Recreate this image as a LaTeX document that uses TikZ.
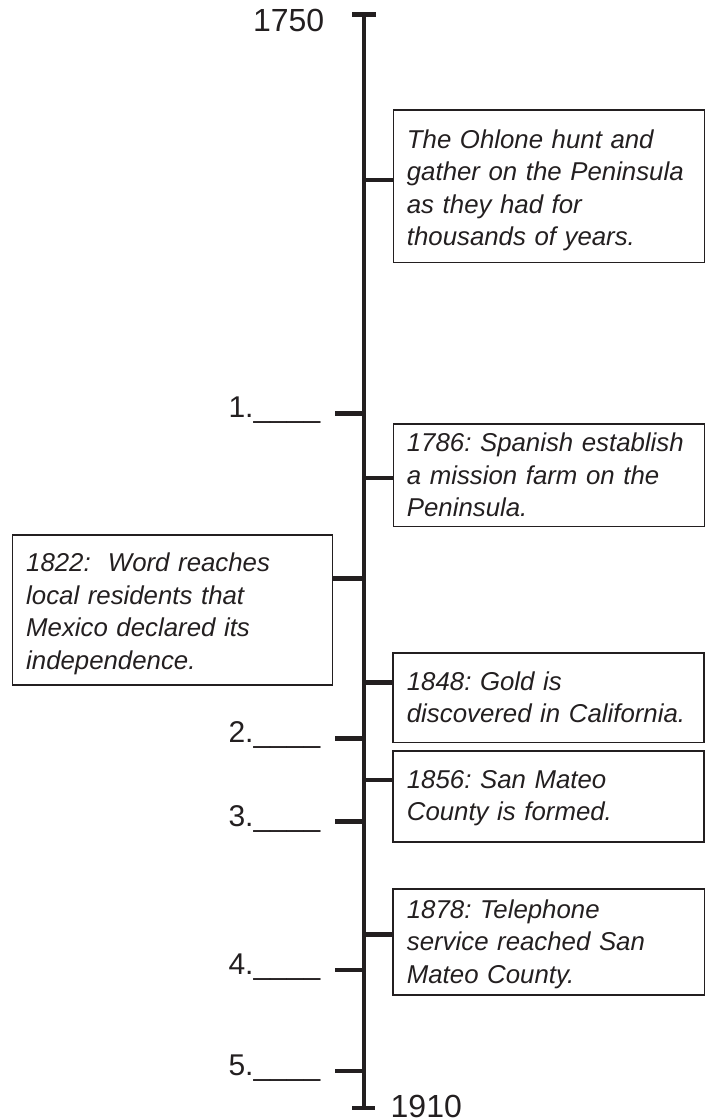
\documentclass[tikz,border=0pt]{standalone}
\usepackage{fontspec}
\setmainfont{Liberation Sans}
\definecolor{ink}{HTML}{231F20}
\frenchspacing
\begin{document}
\begin{tikzpicture}[x=1pt,y=-1pt,
  heavy/.style={line width=4.8pt, draw=ink},
  evbox/.style={draw=ink, line width=1.5pt, rectangle, inner sep=0pt, anchor=north west},
  evtext/.style={anchor=base west, inner sep=0pt, text width=295pt, align=left,
    font=\fontsize{25.8}{32.5}\selectfont\itshape\frenchspacing, text=ink},
  blank/.style={anchor=base east, inner sep=0pt, font=\fontsize{30}{36}\selectfont, text=ink},
  yearlbl/.style={inner sep=0pt, font=\fontsize{32}{38}\selectfont, text=ink}]
\useasboundingbox (0,0) rectangle (705,1120);

% main axis
\coordinate (top) at (364,14.5);
\coordinate (bot) at (364,1108);
\draw[heavy] (top) -- (bot);
\draw[heavy] ([xshift=-12pt]top) -- ([xshift=12pt]top);
\draw[heavy] ([xshift=-12pt]bot) -- ([xshift=11pt]bot);
\node[yearlbl, anchor=base east] (y1750) at (324.5,31.7) {1750};
\node[yearlbl, anchor=base west] (y1910) at (390.5,1117) {1910};

% event boxes
\node[evbox, minimum width=310.8pt, minimum height=152.4pt] (b1) at (392.7,109.3) {};
\node[evtext] (t1) at (406.7,148.3) {The Ohlone hunt and\\gather on the Peninsula\\as they had for\\thousands of years.};

\node[evbox, minimum width=310.8pt, minimum height=102.4pt] (b2) at (392.7,423.3) {};
\node[evtext] (t2) at (406.7,451.7) {1786: Spanish establish\\a mission farm on the\\Peninsula.};

\node[evbox, minimum width=320pt, minimum height=150pt] (b3) at (11.7,534) {};
\node[evtext] (t3) at (26,571.7) {1822:\ \ Word reaches\\local residents that\\Mexico declared its\\independence.};

\node[evbox, minimum width=311pt, minimum height=89.4pt] (b4) at (392.3,652.3) {};
\node[evtext] (t4) at (406.7,690) {1848: Gold is\\discovered in California.};

\node[evbox, minimum width=311pt, minimum height=91pt] (b5) at (392.3,750) {};
\node[evtext] (t5) at (406.7,788) {1856: San Mateo\\County is formed.};

\node[evbox, minimum width=311.5pt, minimum height=106pt] (b6) at (392.3,888.3) {};
\node[evtext] (t6) at (406.7,918.3) {1878: Telephone\\service reached San\\Mateo County.};

% connectors from axis to boxes
\coordinate (r1) at (364,180);
\coordinate (r2) at (364,478);
\coordinate (r3) at (364,578.3);
\coordinate (r4) at (364,682.7);
\coordinate (r5) at (364,780);
\coordinate (r6) at (364,934.3);
\draw[heavy] (r1) -- (r1 -| b1.west);
\draw[heavy] (r2) -- (r2 -| b2.west);
\draw[heavy] (r3) -- (r3 -| b3.east);
\draw[heavy] (r4) -- (r4 -| b4.west);
\draw[heavy] (r5) -- (r5 -| b5.west);
\draw[heavy] (r6) -- (r6 -| b6.west);

% blank answer ticks
\foreach \i/\yy in {1/413.3, 2/738.3, 3/821.7, 4/970, 5/1071}{
  \coordinate (l\i) at (364,\yy);
  \coordinate (le\i) at (335,\yy);
  \draw[heavy] (le\i) -- (l\i);
  \node[blank] (n\i) at (320.5,\yy+4.6) {\i.\_\_\_\_};
}
\end{tikzpicture}
\end{document}
